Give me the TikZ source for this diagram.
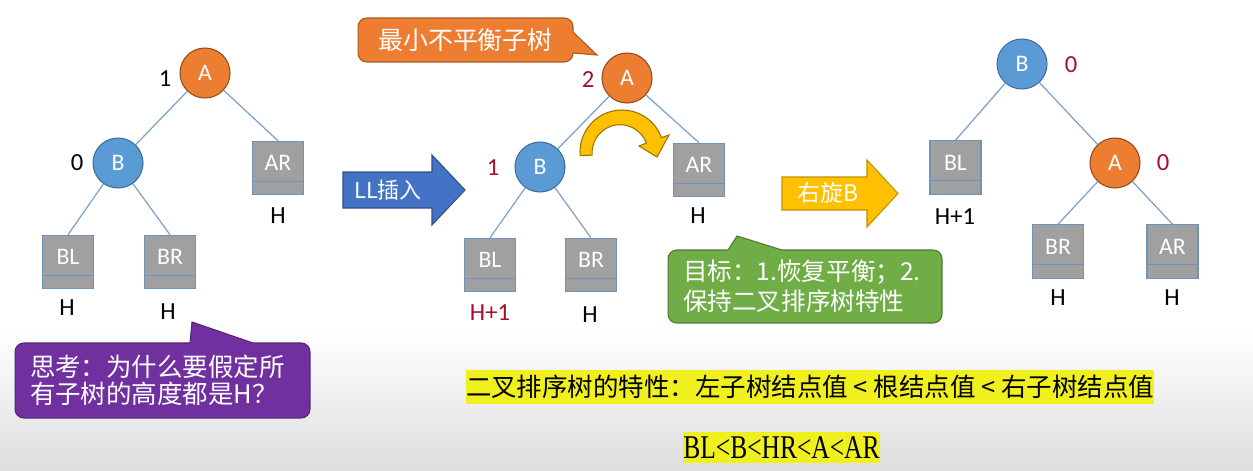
\documentclass[tikz,border=0pt]{standalone}
\usepackage{fontspec}
\usepackage{graphicx}
\setmainfont{Carlito}
\newfontfamily\cjk{Noto Sans CJK SC}
\newfontfamily\tms{Liberation Serif}
\definecolor{nodeblue}{HTML}{5B9BD5}
\definecolor{nodeorange}{HTML}{ED7D31}
\definecolor{boxgray}{HTML}{A0A0A0}
\definecolor{boxedge}{HTML}{6F93BA}
\definecolor{edgeblue}{HTML}{7BA3CC}
\definecolor{bfred}{HTML}{A50F2D}
\definecolor{thinkpurple}{HTML}{7030A0}
\definecolor{goalgreen}{HTML}{70AD47}
\definecolor{arrblue}{HTML}{4472C4}
\definecolor{rotgold}{HTML}{FFC000}
\definecolor{hlyellow}{HTML}{F0F01E}
\tikzset{
  treenode/.style={circle, minimum size=1cm, inner sep=0pt, text=white, font=\fontsize{13.5}{15}\selectfont},
  nodeA/.style={treenode, fill=nodeorange, draw=nodeorange!60!black},
  nodeB/.style={treenode, fill=nodeblue, draw=nodeblue!70!black},
  subtree/.style={rectangle, fill=boxgray, draw=boxedge, minimum width=1.02cm, minimum height=1.07cm,
    inner sep=0pt, text=white, text height=0.3cm, text depth=0.2cm, font=\fontsize{13.5}{15}\selectfont,
    path picture={\draw[boxedge] ([yshift=0.27cm]path picture bounding box.south west) -- ([yshift=0.27cm]path picture bounding box.south east);}},
  edge/.style={draw=edgeblue, line width=0.7pt},
  bf/.style={font=\fontsize{14}{16}\selectfont, inner sep=1pt},
  hgt/.style={font=\fontsize{14}{16}\selectfont, inner sep=1pt},
  callbox/.style={rectangle, rounded corners=5pt, text=white, align=left, inner xsep=0.3cm, inner ysep=0pt, line width=0.6pt},
  hlbox/.style={fill=hlyellow, inner sep=0pt}
}
\begin{document}
\begin{tikzpicture}[x=0.02cm, y=-0.02cm, line width=0.6pt]
  \useasboundingbox (0,0) rectangle (1253,470);
  \fill[white] (0,0) rectangle (1253,470);
  \shade[top color=white, bottom color=black!13] (0,330) rectangle (1253,470);

  % balanced tree before insertion
  \node[nodeA] (A1) at (205,73) {A};
  \node[nodeB] (B1) at (118,163) {B};
  \node[subtree] (AR1) at (278,168) {AR};
  \node[subtree] (BL1) at (68,262) {BL};
  \node[subtree] (BR1) at (170,262) {BR};
  \draw[edge] (A1) -- (B1);
  \draw[edge] (A1) -- (AR1.north);
  \draw[edge] (B1) -- (BL1.north);
  \draw[edge] (B1) -- (BR1.north);
  \node[bf] (bfA1) at (165,79) {1};
  \node[bf] (bfB1) at (77,163) {0};
  \node[hgt] (hAR1) at (278,216) {H};
  \node[hgt] (hBL1) at (67,308) {H};
  \node[hgt] (hBR1) at (168,312) {H};

  % question
  \node[callbox, fill=thinkpurple, draw=thinkpurple!75!black, minimum width=5.9cm, minimum height=1.5cm, text width=5.3cm,
    font=\cjk\fontsize{14.5}{15.5}\selectfont] (think) at (162.5,380.5) {思考：为什么要假定所\\有子树的高度都是H？};
  \fill[thinkpurple] (190,346) -- (192,322) -- (262,346) -- cycle;
  \draw[thinkpurple!75!black] (190,343) -- (192,322) -- (253,343);

  % LL insertion arrow
  \filldraw[fill=arrblue, draw=arrblue!70!black] (343,172) -- (432,172) -- (432,155) -- (465,190) -- (432,225) -- (432,208) -- (343,208) -- cycle;
  \node[text=white, font=\cjk\fontsize{12.5}{14}\selectfont] (llins) at (388,190) {LL插入};

  % unbalanced tree
  \node[callbox, fill=nodeorange, draw=nodeorange!70!black, minimum width=4.3cm, minimum height=0.88cm,
    font=\cjk\fontsize{14.2}{16}\selectfont] (minsub) at (465.5,40) {最小不平衡子树};
  \fill[nodeorange] (570,30) -- (597,55) -- (570,53) -- cycle;
  \draw[nodeorange!70!black] (573,32) -- (597,55) -- (573,53);
  \node[nodeA] (A2) at (627,78) {A};
  \node[nodeB] (B2) at (540,167) {B};
  \node[subtree] (AR2) at (699,170) {AR};
  \node[subtree] (BL2) at (490,265) {BL};
  \node[subtree] (BR2) at (591,265) {BR};
  \draw[edge] (A2) -- (B2);
  \draw[edge] (A2) -- (AR2.north);
  \draw[edge] (B2) -- (BL2.north);
  \draw[edge] (B2) -- (BR2.north);
  \node[bf, text=bfred] (bfA2) at (588,80) {2};
  \node[bf, text=bfred] (bfB2) at (493,168) {1};
  \node[hgt] (hAR2) at (698,216) {H};
  \node[hgt, text=bfred] (hBL2) at (490,313) {H+1};
  \node[hgt] (hBR2) at (590,315) {H};
  \filldraw[fill=rotgold, draw=rotgold!60!black] (622,152) ++(175:42) arc[start angle=175, end angle=340, radius=42]
    -- (669,135) -- (657,157) -- (639,146) -- (646.4,143.1) arc[start angle=340, end angle=175, radius=28] -- cycle;

  % goal
  \node[callbox, fill=goalgreen, draw=goalgreen!70!black, minimum width=5.48cm, minimum height=1.46cm, text width=4.88cm,
    font=\cjk\fontsize{14}{17}\selectfont] (goal) at (805,286.5) {目标：1.恢复平衡；2.\\保持二叉排序树特性};
  \fill[goalgreen] (728,253) -- (728,250) -- (737,236) -- (782,250) -- (782,253) -- cycle;
  \draw[goalgreen!70!black] (728,250) -- (737,236) -- (782,250);

  % right rotation arrow
  \filldraw[fill=rotgold, draw=rotgold!75!black] (782,177) -- (867,177) -- (867,160) -- (898,193.5) -- (867,227) -- (867,210) -- (782,210) -- cycle;
  \node[text=white, font=\cjk\fontsize{13}{15}\selectfont] (rotB) at (828,193) {右旋B};

  % balanced tree after rotation
  \node[nodeB] (B3) at (1022,64) {B};
  \node[nodeA] (A3) at (1115,163) {A};
  \node[subtree] (BL3) at (955.5,167.5) {BL};
  \node[subtree] (BR3) at (1058,251.5) {BR};
  \node[subtree] (AR3) at (1172.5,251.5) {AR};
  \draw[edge] (B3) -- (BL3.north);
  \draw[edge] (B3) -- (A3);
  \draw[edge] (A3) -- (BR3.north);
  \draw[edge] (A3) -- (AR3.north);
  \node[bf, text=bfred] (bfB3) at (1071,65) {0};
  \node[bf, text=bfred] (bfA3) at (1163,163) {0};
  \node[hgt] (hBL3) at (955,217) {H+1};
  \node[hgt] (hBR3) at (1058,298) {H};
  \node[hgt] (hAR3) at (1172,298) {H};

  % property of the sorted tree
  \node[hlbox, minimum width=13.72cm, minimum height=0.68cm, font=\cjk\fontsize{14.5}{16}\selectfont] (prop) at (810,387)
    {二叉排序树的特性：左子树结点值 < 根结点值 < 右子树结点值};
  \node[hlbox, minimum width=3.94cm, minimum height=0.62cm, font=\tms\fontsize{14.5}{16}\selectfont] (order) at (781.5,447.5)
    {\scalebox{1}[1.3]{BL<B<HR<A<AR}};
\end{tikzpicture}
\end{document}
